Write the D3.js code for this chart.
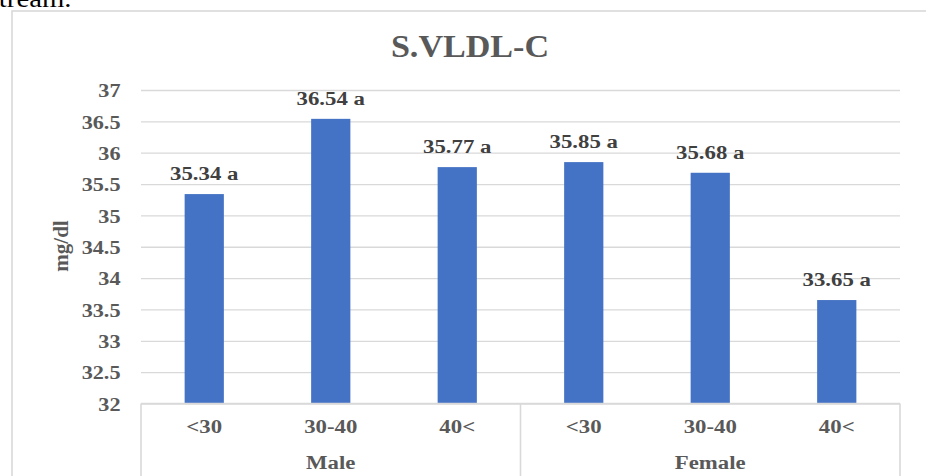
<!DOCTYPE html>
<html>
<head>
<meta charset="utf-8">
<script src="https://cdn.jsdelivr.net/npm/d3@7"></script>
<style>
  html, body { margin: 0; padding: 0; background: #ffffff; }
  svg { display: block; }
  text { font-family: "Liberation Serif", "Times New Roman", serif; }
</style>
</head>
<body>
<svg id="chart" width="926" height="476"></svg>
<script>
// Serum VLDL-C by sex and age band
const groups = ["Male", "Female"];
const ageBands = ["<30", "30-40", "40<"];
const values = [35.34, 36.54, 35.77, 35.85, 35.68, 33.65];
const letters = ["a", "a", "a", "a", "a", "a"];
const yTicks = [32, 32.5, 33, 33.5, 34, 34.5, 35, 35.5, 36, 36.5, 37];

const categories = [];
groups.forEach(g => ageBands.forEach(a => categories.push({ group: g, age: a })));
categories.forEach((c, i) => { c.value = values[i]; c.letter = letters[i]; c.i = i; });

const svg = d3.select("#chart");
const W = 926, H = 476;
const plot = { left: 141, right: 900, top: 90, bottom: 403.5 };
const gridColor = "#d9d9d9";
const textGray = "#595959";

// text running in from the page above
svg.append("text")
  .attr("x", -1).attr("y", 7)
  .attr("font-size", 25)
  .attr("fill", "#000")
  .attr("transform", "scale(1.15,1)")
  .text("tream.");

// outer frame
svg.append("rect")
  .attr("x", 12).attr("y", 11)
  .attr("width", W + 20).attr("height", H + 20)
  .attr("fill", "none")
  .attr("stroke", gridColor)
  .attr("stroke-width", 1.6);

const x = d3.scaleBand()
  .domain(categories.map(c => c.i))
  .range([plot.left, plot.right])
  .padding(0);

const y = d3.scaleLinear()
  .domain([32, 37])
  .range([plot.bottom, plot.top]);

// value axis with gridlines
const yAxis = d3.axisLeft(y)
  .tickValues(yTicks)
  .tickSize(-(plot.right - plot.left))
  .tickFormat(d3.format(""));

const yg = svg.append("g")
  .attr("transform", `translate(${plot.left},0)`)
  .call(yAxis);
yg.select(".domain").remove();
yg.selectAll(".tick line")
  .attr("stroke", gridColor)
  .attr("stroke-width", 1.3);
yg.selectAll(".tick text")
  .attr("x", 0).attr("dy", null).attr("y", 0)
  .attr("transform", "translate(-20.5,6.7) scale(1.17,1)")
  .attr("text-anchor", "end")
  .attr("font-size", 19)
  .attr("font-weight", "bold")
  .attr("fill", textGray)
  .attr("font-family", "'Liberation Serif', 'Times New Roman', serif");

// bars
const barW = x.bandwidth() * 0.31;
svg.append("g")
  .selectAll("rect")
  .data(categories)
  .join("rect")
  .attr("x", d => x(d.i) + (x.bandwidth() - barW) / 2)
  .attr("y", d => y(d.value))
  .attr("width", barW)
  .attr("height", d => y(32) - y(d.value))
  .attr("fill", "#4472c4");

// value labels
svg.append("g")
  .selectAll("text")
  .data(categories)
  .join("text")
  .attr("transform", d => `translate(${x(d.i) + x.bandwidth() / 2},${y(d.value) - 13.8}) scale(1.2,1)`)
  .attr("text-anchor", "middle")
  .attr("font-size", 19)
  .attr("font-weight", "bold")
  .attr("fill", "#404040")
  .text(d => `${d.value.toFixed(2)} ${d.letter}`);

// category axis: baseline and group separators
const axisG = svg.append("g");
axisG.append("line")
  .attr("x1", plot.left).attr("x2", plot.right)
  .attr("y1", plot.bottom).attr("y2", plot.bottom)
  .attr("stroke", gridColor).attr("stroke-width", 1.6);

const sepX = [plot.left];
groups.forEach((g, gi) => sepX.push(x((gi + 1) * ageBands.length - 1) + x.bandwidth()));
axisG.selectAll("line.sep")
  .data(sepX)
  .join("line")
  .attr("class", "sep")
  .attr("x1", d => d).attr("x2", d => d)
  .attr("y1", plot.bottom).attr("y2", H + 5)
  .attr("stroke", gridColor).attr("stroke-width", 1.6);

// age band labels
axisG.selectAll("text.age")
  .data(categories)
  .join("text")
  .attr("class", "age")
  .attr("transform", d => `translate(${x(d.i) + x.bandwidth() / 2},433) scale(1.2,1)`)
  .attr("text-anchor", "middle")
  .attr("font-size", 19)
  .attr("font-weight", "bold")
  .attr("fill", textGray)
  .text(d => d.age);

// group labels
axisG.selectAll("text.group")
  .data(groups)
  .join("text")
  .attr("class", "group")
  .attr("transform", (g, gi) => {
    const first = x(gi * ageBands.length);
    const last = x((gi + 1) * ageBands.length - 1) + x.bandwidth();
    return `translate(${(first + last) / 2},469) scale(1.2,1)`;
  })
  .attr("text-anchor", "middle")
  .attr("font-size", 19)
  .attr("font-weight", "bold")
  .attr("fill", textGray)
  .text(g => g);

// axis title
svg.append("text")
  .attr("transform", "translate(67.5,246) rotate(-90)")
  .attr("text-anchor", "middle")
  .attr("font-size", 21)
  .attr("font-weight", "bold")
  .attr("fill", textGray)
  .text("mg/dl");

// chart title
svg.append("text")
  .attr("transform", "translate(470,56.5) scale(1.1,1)")
  .attr("text-anchor", "middle")
  .attr("font-size", 31)
  .attr("font-weight", "bold")
  .attr("fill", textGray)
  .text("S.VLDL-C");
</script>
</body>
</html>
